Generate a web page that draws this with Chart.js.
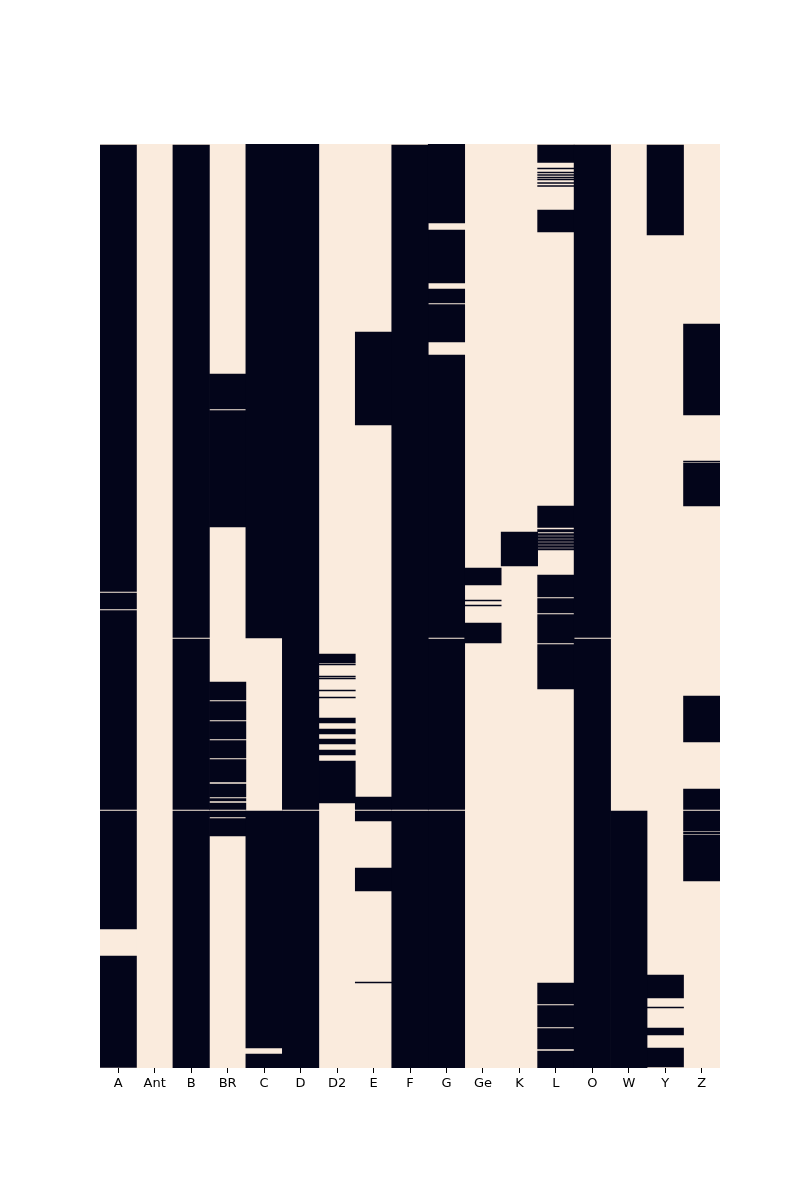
<!DOCTYPE html>
<html>
<head>
<meta charset="utf-8">
<script src="https://cdn.jsdelivr.net/npm/chart.js@4.4.0/dist/chart.umd.min.js"></script>
<style>
  html, body { margin: 0; padding: 0; background: #ffffff; }
  #wrap { width: 800px; height: 1200px; }
</style>
</head>
<body>
<div id="wrap"><canvas id="c" width="800" height="1200"></canvas></div>
<script>
// Column labels (tick labels)
const categories = ["A","Ant","B","BR","C","D","D2","E","F","G","Ge","K","L","O","W","Y","Z"];
// Total number of rows in the frame
const totalRows = 924;

// Row ranges [start, end] where the value is present (dark cells), per column
const colA   = [[1,447.5],[449,465],[466.5,665.5],[667,785],[812,923.5]];
const colAnt = [];
const colB   = [[1,493.5],[495,665.5],[667,924]];
const colBR  = [[230,265],[266.5,383],[538,556],[557.5,576],[577.5,595],[596.5,614],[615.5,638],[640,653],[654.5,657],[659,665.5],[667,673],[674.5,692]];
const colC   = [[0,494],[667,904],[910,924]];
const colD   = [[0,665.5],[667,924]];
const colD2  = [[510,519],[520,521],[532,533],[534,535],[546,547],[553,554],[574,579],[585,590],[595,600],[606,611],[617,659]];
const colE   = [[188,281],[653,665.5],[667,677],[724,747],[838,839]];
const colF   = [[1,665.5],[667,924]];
const colG   = [[0,79],[86,139],[145,159],[160.5,198],[211,493.5],[495,665.5],[667,924]];
const colGe  = [[424,441],[456,457],[461,462],[479,499]];
const colK   = [[388,422]];
const colL   = [[1,18.5],[24,25],[28,29],[30.5,31.5],[33,34],[35,36],[38.5,39.5],[41.5,42.5],[66,88],
                [362,383.5],[385.5,388],[389.5,391.5],[392.5,394.5],[395.5,397.5],[398.5,400.5],[401.5,403.5],[404.5,406],
                [431,453],[454.5,469],[470.5,499],[500.5,545],[839,860],[861.5,883],[884.5,905],[907,924]];
const colO   = [[1,493.5],[495,924]];
const colW   = [[667,924]];
const colY   = [[1,91],[831,854],[863,864],[884,891],[904,923]];
const colZ   = [[180,271],[317,318],[319,362],[552,598],[645,665.5],[667,687],[688,690],[691,737]];

const columns = [colA,colAnt,colB,colBR,colC,colD,colD2,colE,colF,colG,colGe,colK,colL,colO,colW,colY,colZ];

const DARK = "#03051A";
const LIGHT = "#FAEBDD";

const maxRuns = Math.max(...columns.map(c => c.length));
const datasets = [];
// background: missing cells
datasets.push({
  data: categories.map(() => [0, totalRows]),
  backgroundColor: LIGHT,
  borderWidth: 0,
  grouped: false,
  barPercentage: 1,
  categoryPercentage: 1,
  order: 10
});
for (let k = 0; k < maxRuns; k++) {
  datasets.push({
    data: columns.map(c => (c[k] ? c[k] : null)),
    backgroundColor: DARK,
    borderWidth: 0,
    grouped: false,
    barPercentage: 1,
    categoryPercentage: 1,
    order: 0
  });
}

new Chart(document.getElementById("c"), {
  type: "bar",
  data: { labels: categories, datasets: datasets },
  options: {
    responsive: false,
    animation: false,
    events: [],
    layout: { padding: { left: 100, right: 80, top: 144, bottom: 106 } },
    plugins: { legend: { display: false }, tooltip: { enabled: false } },
    scales: {
      x: {
        type: "category",
        offset: true,
        border: { display: false },
        grid: {
          display: true,
          drawOnChartArea: false,
          drawTicks: true,
          tickLength: 5,
          offset: false,
          color: "#000000",
          lineWidth: 1
        },
        ticks: {
          color: "#000000",
          padding: 3,
          maxRotation: 0,
          autoSkip: false,
          font: { family: "DejaVu Sans", size: 13 }
        },
        afterFit: (s) => { s.height = 26; }
      },
      y: {
        display: false,
        min: 0,
        max: totalRows,
        reverse: true
      }
    }
  }
});
</script>
</body>
</html>
